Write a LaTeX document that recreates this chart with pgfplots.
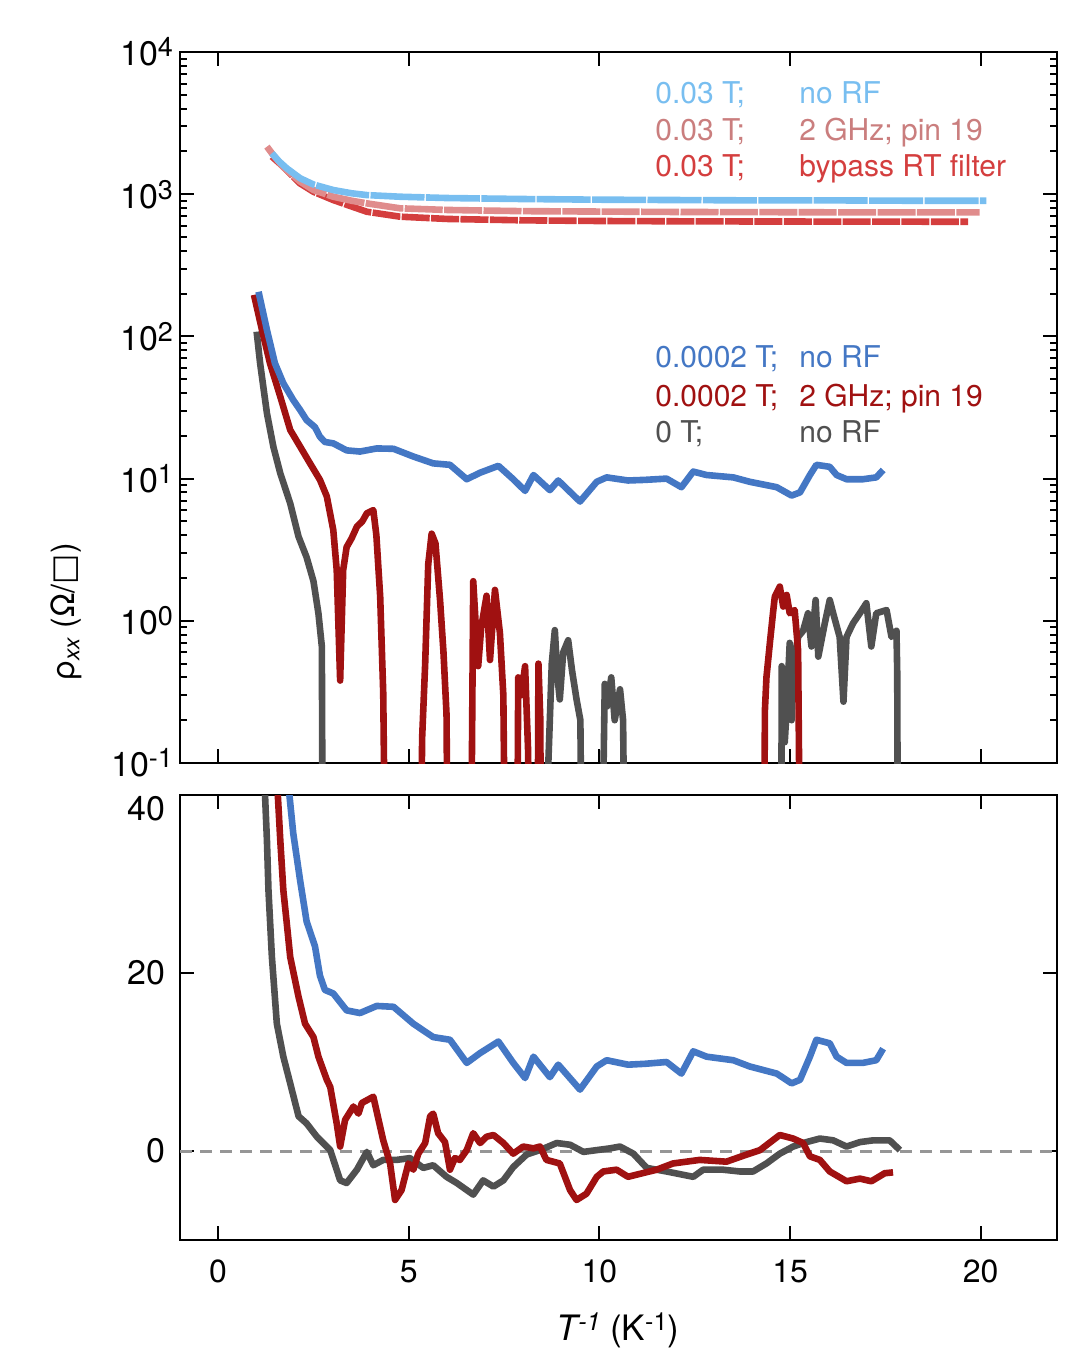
\documentclass[border=0pt]{standalone}
\usepackage{fontspec}
\setmainfont{TeX Gyre Heros}
\newfontfamily\dejavu{DejaVu Sans}
\usepackage{pgfplots}
\pgfplotsset{compat=1.18}
\definecolor{cLB}{RGB}{120,190,240}
\definecolor{cPK}{RGB}{224,140,140}
\definecolor{cRD}{RGB}{212,62,62}
\definecolor{cBL}{RGB}{68,119,196}
\definecolor{cDR}{RGB}{160,17,17}
\definecolor{cGY}{RGB}{80,80,80}
\definecolor{cZL}{RGB}{150,150,150}
\newcommand\tsup[1]{\raisebox{4.5pt}{\fontsize{13.5}{12}\selectfont #1}}
\pgfplotsset{
  myax/.style={
    scale only axis, width=438.5pt, xmin=-1, xmax=22,
    axis line style={line width=1pt}, tick style={line width=1pt, black},
    major tick length=7pt, minor tick length=3.5pt, tick align=inside,
    xtick pos=both, ytick pos=both,
    xtick={0,5,10,15,20},
    xticklabel style={font=\fontsize{16}{19}\selectfont},
    yticklabel style={font=\fontsize{17}{20}\selectfont},
    /pgf/number format/assume math mode=true,
  },
  dl/.style={line width=3.3pt, line join=round, no markers},
}
\begin{document}
\begin{tikzpicture}[x=1pt,y=1pt]
\path[use as bounding box] (0,0) rectangle (543,-685);
% ---------------- top panel ----------------
\begin{axis}[myax, at={(90pt,-26pt)}, anchor=north west, height=355.5pt,
  ymode=log, ymin=0.1, ymax=10000,
  xticklabels={},
  ytick={0.1,1,10,100,1000,10000},
  yticklabels={{10\tsup{-1}},{10\tsup{0}},{10\tsup{1}},{10\tsup{2}},{10\tsup{3}},{10\tsup{4}}},
  minor ytick={0.2,0.3,0.4,0.5,0.6,0.7,0.8,0.9,2,3,4,5,6,7,8,9,20,30,40,50,60,70,80,90,200,300,400,500,600,700,800,900,2000,3000,4000,5000,6000,7000,8000,9000},
]
% 0.03 T bypass RT filter
\addplot[dl, cRD, dash pattern=on 14pt off 0.7pt] coordinates {
(1.41,1840) (1.71,1560) (2.15,1190) (2.5,1040) (3.02,910) (3.5,820) (3.9,753) (4.77,695) (6,670) (8,655) (10,648) (12,645) (14,643) (16,642) (18,641) (19.67,640)};
% 0.03 T 2 GHz pin 19
\addplot[dl, cPK, dash pattern=on 19pt off 0.7pt] coordinates {
(1.28,2160) (1.45,1880) (1.7,1560) (2.15,1225) (2.5,1070) (3.02,960) (3.5,900) (3.9,862) (4.77,796) (6,775) (8,760) (10,755) (12,750) (14,748) (16,746) (18,746) (19.97,745)};
% 0.03 T no RF
\addplot[dl, cLB, dash pattern=on 27pt off 0.7pt] coordinates {
(1.41,1940) (1.6,1700) (1.8,1520) (2.15,1295) (2.5,1170) (3.02,1070) (3.5,1015) (3.9,986) (4.77,960) (6,940) (8,925) (10,915) (12,910) (14,905) (16,905) (18,900) (20.15,900)};
% 0 T no RF
\addplot[dl, cGY] coordinates {
(1.01,108) (1.10,65) (1.28,28.8) (1.45,16.7) (1.63,10.9) (1.89,6.7) (2.11,3.9) (2.32,2.8) (2.50,1.9) (2.63,1.13) (2.72,0.66) (2.76,0.001)
(8.62,0.001) (8.66,0.1) (8.75,0.5) (8.83,0.86) (8.90,0.4) (8.96,0.28) (9.05,0.6) (9.18,0.73) (9.28,0.45) (9.40,0.28) (9.50,0.2) (9.58,0.001)
(10.0,0.001) (10.14,0.36) (10.2,0.25) (10.31,0.40) (10.4,0.2) (10.54,0.33) (10.62,0.2) (10.71,0.001)
(14.76,0.001) (14.78,0.48) (14.84,0.3) (14.86,0.14) (14.91,0.24) (14.99,0.70) (15.04,0.2) (15.08,0.45) (15.21,0.77) (15.34,0.85) (15.47,1.13) (15.56,0.66) (15.67,1.40) (15.74,0.56) (15.91,0.96) (16.04,1.40) (16.13,1.13) (16.30,0.77) (16.40,0.27) (16.48,0.77) (16.65,0.96) (16.83,1.13) (17.0,1.33) (17.13,0.66) (17.26,1.13) (17.53,1.19) (17.66,0.77) (17.79,0.85) (17.81,0.43) (17.84,0.001)};
% 0.0002 T 2 GHz pin 19
\addplot[dl, cDR] coordinates {
(0.94,196) (1.15,111) (1.36,64.7) (1.63,37.7) (1.89,22) (2.15,16.8) (2.41,12.8) (2.67,9.8) (2.85,7.5) (3.02,4.35) (3.11,2.28) (3.20,0.38) (3.28,2.28) (3.37,3.3) (3.50,3.8) (3.64,4.6) (3.78,5.0) (3.90,5.7) (4.07,6.0) (4.15,4.0) (4.25,1.48) (4.33,0.31) (4.43,0.001)
(5.27,0.001) (5.35,0.15) (5.43,0.5) (5.51,2.5) (5.60,4.1) (5.70,3.5) (5.82,1.4) (5.91,0.6) (5.99,0.22) (6.05,0.001)
(6.60,0.001) (6.69,1.9) (6.75,1.0) (6.82,0.48) (6.9,0.9) (7.04,1.5) (7.13,0.53) (7.26,1.65) (7.39,0.82) (7.48,0.3) (7.57,0.001)
(7.82,0.001) (7.87,0.40) (7.95,0.3) (8.05,0.48) (8.13,0.12) (8.18,0.001)
(8.36,0.001) (8.40,0.50) (8.45,0.2) (8.48,0.001)
(14.29,0.001) (14.34,0.236) (14.38,0.40) (14.47,0.70) (14.56,1.19) (14.60,1.48) (14.73,1.74) (14.82,1.26) (14.91,1.52) (14.99,1.13) (15.12,1.19) (15.21,0.62) (15.30,0.001)};
% 0.0002 T no RF
\addplot[dl, cBL] coordinates {
(1.06,206) (1.28,111) (1.49,64.7) (1.71,46.8) (1.97,35.7) (2.15,30.4) (2.32,25.8) (2.54,23.0) (2.67,19.7) (2.80,18.1) (3.02,17.7) (3.37,15.8) (3.72,15.5) (4.16,16.3) (4.60,16.2) (5.12,14.3) (5.64,12.8) (6.08,12.5) (6.52,9.9) (6.87,11.0) (7.35,12.3) (7.74,9.9) (8.05,8.2) (8.27,10.6) (8.70,8.3) (8.92,9.7) (9.49,6.9) (9.93,9.5) (10.19,10.2) (10.75,9.7) (11.2,9.8) (11.76,10.0) (12.15,8.7) (12.46,11.2) (12.81,10.6) (13.51,10.2) (13.94,9.5) (14.65,8.7) (15.04,7.6) (15.26,8.0) (15.52,10.6) (15.69,12.5) (16.04,12.1) (16.22,10.6) (16.48,9.9) (16.91,9.9) (17.26,10.2) (17.44,11.5)};
\begin{scope}[every node/.style={anchor=base west, inner sep=0pt, font=\fontsize{15}{18}\selectfont}]
\node[text=cLB] at (rel axis cs:0.5416,0.9269) {0.03 T;};
\node[text=cLB] at (rel axis cs:0.7058,0.9269) {no RF};
\node[text=cPK!90!black] at (rel axis cs:0.5416,0.8762) {0.03 T;};
\node[text=cPK!90!black] at (rel axis cs:0.7058,0.8762) {2 GHz; pin 19};
\node[text=cRD] at (rel axis cs:0.5416,0.8242) {0.03 T;};
\node[text=cRD] at (rel axis cs:0.7058,0.8242) {bypass RT filter};
\node[text=cBL] at (rel axis cs:0.5416,0.5556) {0.0002 T;};
\node[text=cBL] at (rel axis cs:0.7058,0.5556) {no RF};
\node[text=cDR] at (rel axis cs:0.5416,0.5021) {0.0002 T;};
\node[text=cDR] at (rel axis cs:0.7058,0.5021) {2 GHz; pin 19};
\node[text=cGY] at (rel axis cs:0.5416,0.4501) {0 T;};
\node[text=cGY] at (rel axis cs:0.7058,0.4501) {no RF};
\end{scope}
\end{axis}
% ---------------- bottom panel ----------------
\begin{axis}[myax, at={(90pt,-397.5pt)}, anchor=north west, height=222.5pt,
  ymin=-10, ymax=40, ytick={0,20,40},
  yticklabels={0,20,{\raisebox{-12.5pt}[0pt][0pt]{40}}},
  yticklabel style={xshift=-4pt},
  xticklabel style={yshift=-6.5pt},
]
\addplot[line width=1.5pt, cZL, dash pattern=on 6pt off 4pt] coordinates {(-1,0) (22,0)};
% 0 T
\addplot[dl, cGY] coordinates {
(1.01,108) (1.10,65) (1.23,40) (1.28,34.9) (1.32,29.3) (1.41,21.8) (1.54,14.3) (1.71,10.6) (1.89,7.6) (2.11,3.9) (2.32,3.1) (2.59,1.6) (2.94,0.1) (3.20,-3.3) (3.37,-3.6) (3.64,-2.1) (3.90,-0.1) (4.07,-1.6) (4.33,-1.0) (4.68,-1.0) (5.03,-0.8) (5.38,-1.9) (5.64,-1.6) (5.99,-2.9) (6.26,-3.6) (6.69,-4.9) (6.95,-3.3) (7.22,-4.0) (7.48,-3.3) (7.74,-1.8) (8.09,-0.4) (8.44,0.1) (8.88,0.9) (9.23,0.7) (9.58,-0.1) (9.93,0.1) (10.28,0.3) (10.54,0.5) (10.89,-0.3) (11.24,-1.9) (11.76,-2.3) (12.46,-2.9) (12.72,-2.1) (13.24,-2.1) (13.68,-2.3) (14.03,-2.3) (14.38,-1.4) (14.73,-0.3) (15.08,0.5) (15.43,1.0) (15.78,1.4) (16.13,1.2) (16.48,0.5) (16.83,1.0) (17.18,1.2) (17.61,1.2) (17.88,0.1)};
% 0.0002 T 2 GHz
\addplot[dl, cDR] coordinates {
(0.94,196) (1.15,111) (1.36,64.7) (1.54,42) (1.63,34.9) (1.71,29.3) (1.80,25.6) (1.89,21.8) (2.11,17.3) (2.28,14.3) (2.50,12.8) (2.63,10.6) (2.85,8.0) (2.94,7.2) (3.11,3.1) (3.20,0.5) (3.33,3.5) (3.55,5.0) (3.68,4.2) (3.77,5.4) (3.90,5.7) (4.07,6.1) (4.33,1.2) (4.51,-1.4) (4.64,-5.5) (4.81,-4.4) (4.99,-1.4) (5.12,-2.1) (5.25,-0.3) (5.43,0.9) (5.56,3.9) (5.64,4.2) (5.77,2.0) (5.95,1.0) (6.08,-2.1) (6.21,-0.8) (6.34,-1.0) (6.52,0.1) (6.69,2.0) (6.87,0.9) (7.04,1.6) (7.22,1.8) (7.48,0.9) (7.74,-0.3) (8.00,0.5) (8.27,0.3) (8.44,0.5) (8.61,-1.0) (8.96,-1.4) (9.23,-4.4) (9.40,-5.5) (9.66,-4.8) (9.93,-2.9) (10.10,-2.3) (10.45,-2.1) (10.75,-2.9) (11.50,-2.1) (11.93,-1.4) (12.63,-1.0) (13.33,-1.2) (13.86,-0.4) (14.21,0.1) (14.73,1.8) (15.08,1.4) (15.34,0.9) (15.52,-0.6) (15.78,-1.0) (16.04,-2.3) (16.48,-3.4) (16.83,-3.1) (17.13,-3.4) (17.48,-2.5) (17.70,-2.4)};
% 0.0002 T no RF
\addplot[dl, cBL] coordinates {
(1.06,206) (1.28,111) (1.49,64.7) (1.71,46.8) (1.97,35.7) (2.15,30.4) (2.32,25.8) (2.54,23.0) (2.67,19.7) (2.80,18.1) (3.02,17.7) (3.37,15.8) (3.72,15.5) (4.16,16.3) (4.60,16.2) (5.12,14.3) (5.64,12.8) (6.08,12.5) (6.52,9.9) (6.87,11.0) (7.35,12.3) (7.74,9.9) (8.05,8.2) (8.27,10.6) (8.70,8.3) (8.92,9.7) (9.49,6.9) (9.93,9.5) (10.19,10.2) (10.75,9.7) (11.2,9.8) (11.76,10.0) (12.15,8.7) (12.46,11.2) (12.81,10.6) (13.51,10.2) (13.94,9.5) (14.65,8.7) (15.04,7.6) (15.26,8.0) (15.52,10.6) (15.69,12.5) (16.04,12.1) (16.22,10.6) (16.48,9.9) (16.91,9.9) (17.26,10.2) (17.44,11.5)};
\end{axis}
% axis labels
\node[rotate=90, font=\fontsize{16}{19}\selectfont] at (33,-306) {ρ\textsubscript{\itshape xx} (Ω/{\dejavu □})};
\node[font=\fontsize{17.5}{20}\selectfont] at (309,-665) {{\itshape T\raisebox{5pt}{\fontsize{12.5}{12}\selectfont -1}} (K\raisebox{5pt}{\fontsize{12.5}{12}\selectfont -1})};
\end{tikzpicture}
\end{document}
